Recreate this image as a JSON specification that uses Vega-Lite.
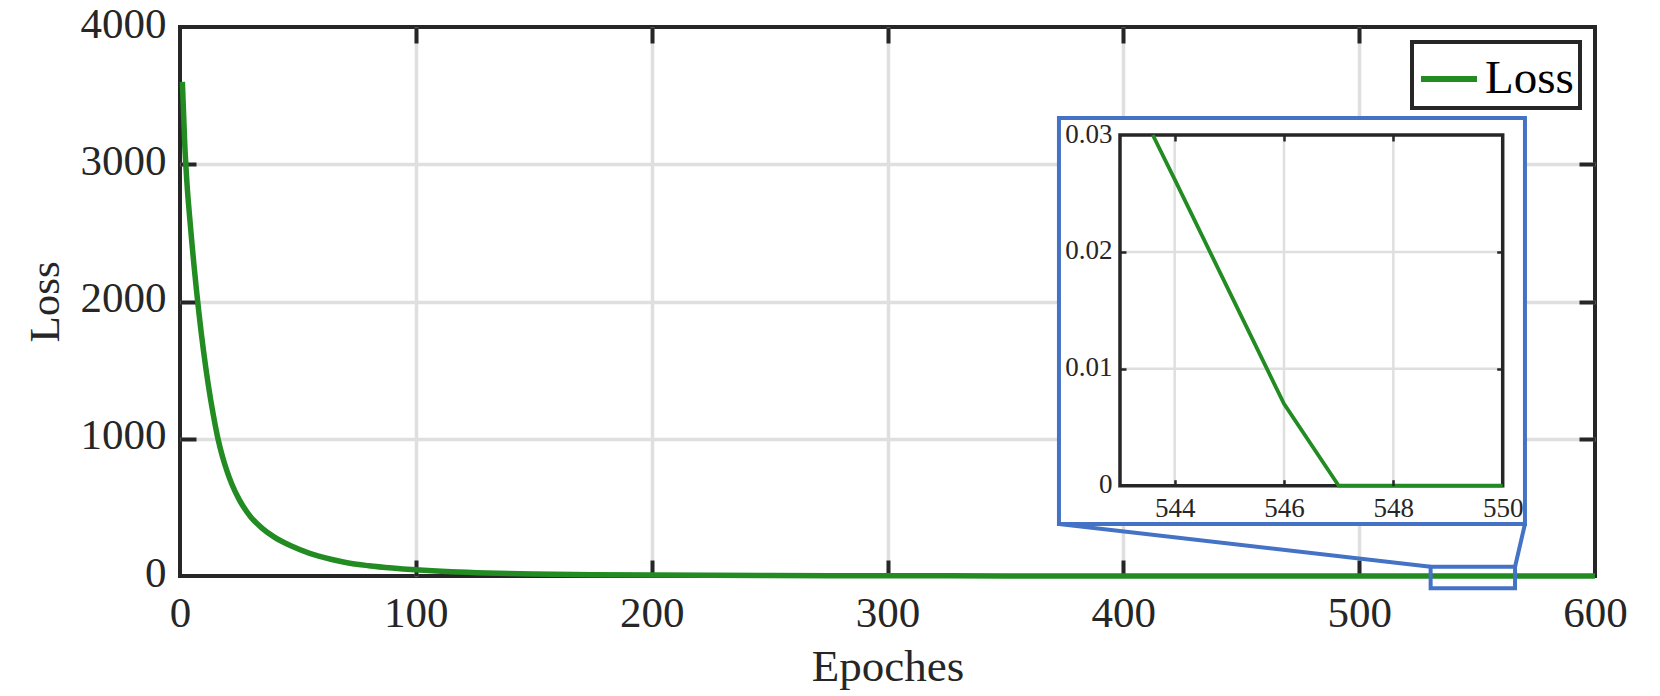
{
  "$schema": "https://vega.github.io/schema/vega-lite/v6.json",
  "width": 1415,
  "height": 549,
  "autosize": {"type": "none"},
  "padding": {"left": 180, "top": 27, "right": 65, "bottom": 120},
  "background": "white",
  "config": {
    "font": "Liberation Serif",
    "view": {"stroke": "#262626", "strokeWidth": 4},
    "axis": {
      "labelColor": "#262626",
      "titleColor": "#262626",
      "labelFont": "Liberation Serif",
      "titleFont": "Liberation Serif",
      "titleFontWeight": "normal",
      "labelFlush": false,
      "labelOverlap": false,
      "domain": false
    },
    "legend": {"strokeWidth": 4}
  },
  "datasets": {
    "loss": [
      {"epoch": 1, "loss": 3600},
      {"epoch": 2, "loss": 3150},
      {"epoch": 3, "loss": 2850},
      {"epoch": 4, "loss": 2633},
      {"epoch": 5, "loss": 2435},
      {"epoch": 6, "loss": 2251},
      {"epoch": 7, "loss": 2081},
      {"epoch": 8, "loss": 1921},
      {"epoch": 10, "loss": 1636},
      {"epoch": 12, "loss": 1392},
      {"epoch": 14, "loss": 1185},
      {"epoch": 16, "loss": 1008},
      {"epoch": 18, "loss": 870},
      {"epoch": 20, "loss": 760},
      {"epoch": 22, "loss": 668},
      {"epoch": 25, "loss": 560},
      {"epoch": 30, "loss": 430},
      {"epoch": 35, "loss": 345},
      {"epoch": 40, "loss": 283},
      {"epoch": 47, "loss": 220},
      {"epoch": 55, "loss": 165},
      {"epoch": 64, "loss": 122},
      {"epoch": 72, "loss": 93},
      {"epoch": 80, "loss": 75},
      {"epoch": 90, "loss": 58},
      {"epoch": 100, "loss": 45},
      {"epoch": 115, "loss": 31},
      {"epoch": 130, "loss": 22},
      {"epoch": 150, "loss": 15},
      {"epoch": 175, "loss": 10},
      {"epoch": 200, "loss": 6.5},
      {"epoch": 250, "loss": 3},
      {"epoch": 300, "loss": 1.4},
      {"epoch": 350, "loss": 0.7},
      {"epoch": 400, "loss": 0.35},
      {"epoch": 450, "loss": 0.17},
      {"epoch": 500, "loss": 0.08},
      {"epoch": 530, "loss": 0.045},
      {"epoch": 543, "loss": 0.036},
      {"epoch": 544, "loss": 0.026},
      {"epoch": 545, "loss": 0.017},
      {"epoch": 546, "loss": 0.007},
      {"epoch": 547, "loss": 0},
      {"epoch": 550, "loss": 0},
      {"epoch": 575, "loss": 0},
      {"epoch": 600, "loss": 0}
    ],
    "inset": [
      {"epoch": 543.6, "loss": 0.03},
      {"epoch": 544, "loss": 0.0262},
      {"epoch": 545, "loss": 0.0166},
      {"epoch": 546, "loss": 0.007},
      {"epoch": 547, "loss": 0},
      {"epoch": 548, "loss": 0},
      {"epoch": 549, "loss": 0},
      {"epoch": 550, "loss": 0}
    ],
    "insetbox": [{"epoch": 372.7, "epoch2": 570.3, "loss": 379, "loss2": 3337}],
    "zoombox": [{"epoch": 530.3, "epoch2": 566.1, "loss": -89.6, "loss2": 67.8}],
    "connectors": [
      {"epoch": 372.7, "loss": 379, "epoch2": 530.3, "loss2": 67.8},
      {"epoch": 570.3, "loss": 379, "epoch2": 566.1, "loss2": 67.8}
    ],
    "insetgridx": [{"epoch": 544}, {"epoch": 546}, {"epoch": 548}],
    "insetgridy": [{"loss": 0.01}, {"loss": 0.02}]
  },
  "layer": [
    {
      "data": {"name": "loss"},
      "mark": {"type": "line", "strokeWidth": 5.5, "interpolate": "monotone"},
      "encoding": {
        "x": {
          "field": "epoch", "type": "quantitative",
          "scale": {"domain": [0, 600], "nice": false, "zero": false},
          "axis": {
            "orient": "bottom", "values": [0, 100, 200, 300, 400, 500, 600], "format": "d",
            "grid": false, "ticks": false, "domain": false,
            "labelFontSize": 43, "labelPadding": 50, "labelBaseline": "alphabetic",
            "title": "Epoches", "titleFontSize": 45, "titleBaseline": "alphabetic", "titleY": 104
          }
        },
        "y": {
          "field": "loss", "type": "quantitative",
          "scale": {"domain": [0, 4000], "nice": false, "zero": false},
          "axis": {
            "orient": "left", "values": [0, 1000, 2000, 3000, 4000], "format": "d",
            "grid": false, "ticks": false, "domain": false,
            "labelFontSize": 43, "labelPadding": 14, "labelOffset": -3,
            "title": "Loss", "titleFontSize": 43, "titleAngle": 270, "titleBaseline": "alphabetic", "titleX": -122
          }
        },
        "color": {
          "datum": "Loss", "type": "nominal",
          "scale": {"domain": ["Loss"], "range": ["#228B22"]},
          "legend": {
            "orient": "top-right", "offset": 15, "title": null,
            "symbolType": "stroke", "symbolSize": 3136, "symbolStrokeWidth": 6,
            "labelFontSize": 47, "labelColor": "#000000", "labelFont": "Liberation Serif",
            "strokeColor": "#262626", "fillColor": "white", "padding": 6, "labelOffset": 5
          }
        },
        "strokeWidth": {"value": 5.5}
      }
    },
    {
      "data": {"values": [{}]},
      "mark": {"type": "point", "opacity": 0},
      "encoding": {
        "x": {
          "datum": 0, "type": "quantitative",
          "scale": {"domain": [0, 600], "nice": false, "zero": false},
          "axis": {"orient": "bottom", "values": [100, 200, 300, 400, 500], "labels": false, "grid": true, "gridColor": "#dfdfdf", "gridWidth": 3.5, "ticks": true, "tickSize": -16, "tickWidth": 4, "tickColor": "#262626", "domain": false, "title": null}
        },
        "y": {
          "datum": 0, "type": "quantitative",
          "scale": {"domain": [0, 4000], "nice": false, "zero": false},
          "axis": {"orient": "left", "values": [1000, 2000, 3000], "labels": false, "grid": true, "gridColor": "#dfdfdf", "gridWidth": 3.5, "ticks": true, "tickSize": -16, "tickWidth": 4, "tickColor": "#262626", "domain": false, "title": null}
        }
      }
    },
    {
      "data": {"values": [{}]},
      "mark": {"type": "point", "opacity": 0},
      "encoding": {
        "x": {
          "datum": 0, "type": "quantitative",
          "scale": {"domain": [0, 600], "nice": false, "zero": false},
          "axis": {"orient": "top", "values": [100, 200, 300, 400, 500], "labels": false, "grid": false, "ticks": true, "tickSize": -16, "tickWidth": 4, "tickColor": "#262626", "domain": false, "title": null}
        },
        "y": {
          "datum": 0, "type": "quantitative",
          "scale": {"domain": [0, 4000], "nice": false, "zero": false},
          "axis": {"orient": "right", "values": [1000, 2000, 3000], "labels": false, "grid": false, "ticks": true, "tickSize": -16, "tickWidth": 4, "tickColor": "#262626", "domain": false, "title": null}
        }
      }
    },
    {
      "data": {"name": "insetbox"},
      "mark": {"type": "rect", "fill": "white", "stroke": "#4472C4", "strokeWidth": 4},
      "encoding": {
        "x": {"field": "epoch", "type": "quantitative", "scale": {"domain": [0, 600], "nice": false, "zero": false}, "axis": null},
        "x2": {"field": "epoch2"},
        "y": {"field": "loss", "type": "quantitative", "scale": {"domain": [0, 4000], "nice": false, "zero": false}, "axis": null},
        "y2": {"field": "loss2"}
      }
    },
    {
      "data": {"name": "zoombox"},
      "mark": {"type": "rect", "fill": "white", "fillOpacity": 0, "stroke": "#4472C4", "strokeWidth": 4},
      "encoding": {
        "x": {"field": "epoch", "type": "quantitative", "scale": {"domain": [0, 600], "nice": false, "zero": false}, "axis": null},
        "x2": {"field": "epoch2"},
        "y": {"field": "loss", "type": "quantitative", "scale": {"domain": [0, 4000], "nice": false, "zero": false}, "axis": null},
        "y2": {"field": "loss2"}
      }
    },
    {
      "data": {"name": "connectors"},
      "mark": {"type": "rule", "stroke": "#4472C4", "strokeWidth": 4},
      "encoding": {
        "x": {"field": "epoch", "type": "quantitative", "scale": {"domain": [0, 600], "nice": false, "zero": false}, "axis": null},
        "x2": {"field": "epoch2"},
        "y": {"field": "loss", "type": "quantitative", "scale": {"domain": [0, 4000], "nice": false, "zero": false}, "axis": null},
        "y2": {"field": "loss2"}
      }
    },
    {
      "data": {"name": "insetgridx"},
      "mark": {"type": "rule", "stroke": "#dfdfdf", "strokeWidth": 2.5},
      "encoding": {
        "x": {"field": "epoch", "type": "quantitative", "scale": {"domain": [543, 550], "range": [940, 1322.7], "nice": false, "zero": false}, "axis": null},
        "y": {"datum": 0, "type": "quantitative", "scale": {"domain": [0, 0.03], "range": [458.7, 108], "nice": false, "zero": false}, "axis": null},
        "y2": {"datum": 0.03}
      }
    },
    {
      "data": {"name": "insetgridy"},
      "mark": {"type": "rule", "stroke": "#dfdfdf", "strokeWidth": 2.5},
      "encoding": {
        "x": {"datum": 543, "type": "quantitative", "scale": {"domain": [543, 550], "range": [940, 1322.7], "nice": false, "zero": false}, "axis": null},
        "x2": {"datum": 550},
        "y": {"field": "loss", "type": "quantitative", "scale": {"domain": [0, 0.03], "range": [458.7, 108], "nice": false, "zero": false}, "axis": null}
      }
    },
    {
      "data": {"values": [{}]},
      "mark": {"type": "rect", "fill": "white", "fillOpacity": 0, "stroke": "#262626", "strokeWidth": 3.5},
      "encoding": {
        "x": {"datum": 543, "type": "quantitative", "scale": {"domain": [543, 550], "range": [940, 1322.7], "nice": false, "zero": false}, "axis": null},
        "x2": {"datum": 550},
        "y": {"datum": 0, "type": "quantitative", "scale": {"domain": [0, 0.03], "range": [458.7, 108], "nice": false, "zero": false}, "axis": null},
        "y2": {"datum": 0.03}
      }
    },
    {
      "data": {"name": "inset"},
      "mark": {"type": "line", "stroke": "#228B22", "strokeWidth": 3.8},
      "encoding": {
        "x": {
          "field": "epoch", "type": "quantitative",
          "scale": {"domain": [543, 550], "range": [940, 1322.7], "nice": false, "zero": false},
          "axis": {"orient": "bottom", "offset": -90.3, "values": [544, 546, 548, 550], "format": "d", "ticks": false, "grid": false, "domain": false, "labelFontSize": 27, "labelPadding": 31, "labelBaseline": "alphabetic", "title": null, "zindex": 1}
        },
        "y": {
          "field": "loss", "type": "quantitative",
          "scale": {"domain": [0, 0.03], "range": [458.7, 108], "nice": false, "zero": false},
          "axis": {"orient": "left", "offset": -940, "values": [0, 0.01, 0.02, 0.03], "format": "~g", "ticks": false, "grid": false, "domain": false, "labelFontSize": 27, "labelPadding": 8, "labelOffset": -1, "title": null, "zindex": 1}
        },
        "strokeWidth": {"value": 3.8}
      }
    },
    {
      "data": {"values": [{}]},
      "mark": {"type": "point", "opacity": 0},
      "encoding": {
        "x": {
          "datum": 545, "type": "quantitative",
          "scale": {"domain": [543, 550], "range": [940, 1322.7], "nice": false, "zero": false},
          "axis": {"orient": "bottom", "offset": -90.3, "values": [544, 546, 548], "labels": false, "grid": false, "ticks": true, "tickSize": -6, "tickWidth": 2.5, "tickColor": "#262626", "domain": false, "title": null, "zindex": 1}
        },
        "y": {
          "datum": 0.01, "type": "quantitative",
          "scale": {"domain": [0, 0.03], "range": [458.7, 108], "nice": false, "zero": false},
          "axis": {"orient": "left", "offset": -940, "values": [0.01, 0.02], "labels": false, "grid": false, "ticks": true, "tickSize": -6, "tickWidth": 2.5, "tickColor": "#262626", "domain": false, "title": null, "zindex": 1}
        }
      }
    },
    {
      "data": {"values": [{}]},
      "mark": {"type": "point", "opacity": 0},
      "encoding": {
        "x": {
          "datum": 545, "type": "quantitative",
          "scale": {"domain": [543, 550], "range": [940, 1322.7], "nice": false, "zero": false},
          "axis": {"orient": "top", "offset": -108, "values": [544, 546, 548], "labels": false, "grid": false, "ticks": true, "tickSize": -6, "tickWidth": 2.5, "tickColor": "#262626", "domain": false, "title": null, "zindex": 1}
        },
        "y": {
          "datum": 0.01, "type": "quantitative",
          "scale": {"domain": [0, 0.03], "range": [458.7, 108], "nice": false, "zero": false},
          "axis": {"orient": "right", "offset": -92.3, "values": [0.01, 0.02], "labels": false, "grid": false, "ticks": true, "tickSize": -6, "tickWidth": 2.5, "tickColor": "#262626", "domain": false, "title": null, "zindex": 1}
        }
      }
    }
  ],
  "resolve": {
    "scale": {"x": "independent", "y": "independent"},
    "axis": {"x": "independent", "y": "independent"}
  }
}
